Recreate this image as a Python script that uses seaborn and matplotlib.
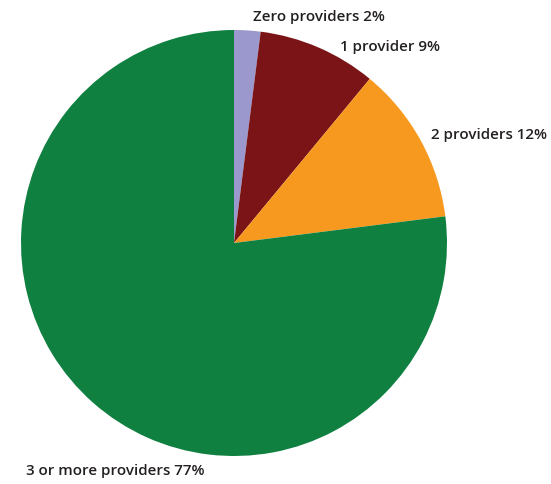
import matplotlib
matplotlib.use("Agg")
import matplotlib.pyplot as plt
import seaborn as sns

categories = ["Zero providers", "1 provider", "2 providers", "3 or more providers"]
shares = [2, 9, 12, 77]
colors = ["#9a98cc", "#7b1416", "#f7991f", "#0f8040"]

sns.set_theme(style="white")
plt.rcParams['font.family'] = ['Open Sans', 'DejaVu Sans']

W, H = 551, 484
fig = plt.figure(figsize=(W / 100, H / 100), dpi=100)
ax = fig.add_axes([0, 0, 1, 1])

ax.pie(shares, colors=colors, startangle=90, counterclock=False,
       radius=213, center=(234, H - 243), frame=True,
       wedgeprops=dict(linewidth=0))
ax.set_xlim(0, W)
ax.set_ylim(0, H)
ax.set_aspect('equal')
ax.axis('off')

label_pos = [(253, 17), (340, 47), (431, 135), (26, 471)]
for cat, s, (x, y) in zip(categories, shares, label_pos):
    ax.text(x, H - y, f"{cat} {s}%", ha='left', va='center', fontsize=10.9,
            fontweight='semibold', color='#231f20')

fig.savefig("out.png", dpi=100)
